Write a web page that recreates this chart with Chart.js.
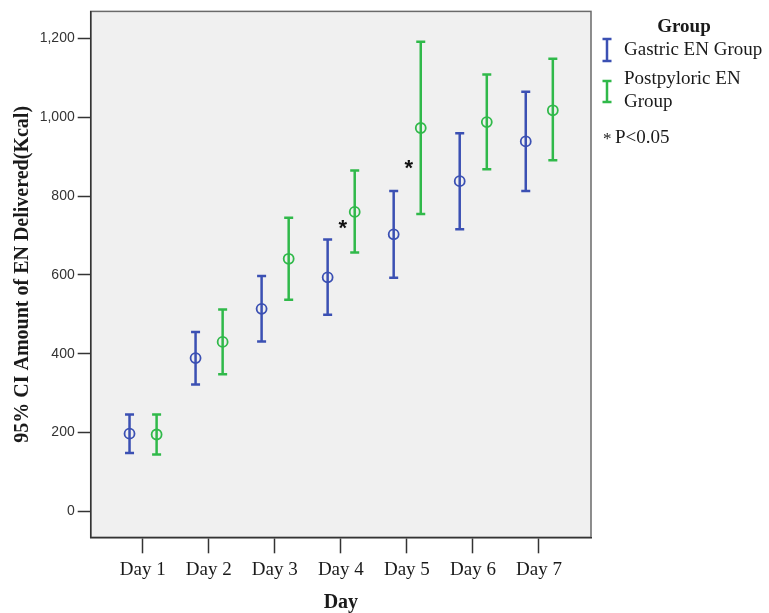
<!DOCTYPE html>
<html>
<head>
<meta charset="utf-8">
<script src="https://cdn.jsdelivr.net/npm/chart.js@4"></script>
<style>
  body { margin: 0; background: #fff; }
</style>
</head>
<body>
<canvas id="chart" width="769" height="613"></canvas>
<script>
const days = ["Day 1", "Day 2", "Day 3", "Day 4", "Day 5", "Day 6", "Day 7"];
const gastricMean = [197, 389, 514, 594, 703, 838, 939];
const gastricLow = [148, 322, 431, 499, 593, 716, 813];
const gastricHigh = [246, 455, 597, 690, 813, 960, 1065];
const postMean = [195, 430, 641, 760, 973, 988, 1018];
const postLow = [144, 348, 537, 657, 755, 868, 891];
const postHigh = [246, 512, 745, 865, 1192, 1109, 1149];
const starDay = [4, 5];
const starY = [715, 866];
const yTicks = [0, 200, 400, 600, 800, 1000, 1200];

const BLUE = "#3b50b3";
const GREEN = "#30b94a";
const SERIF = "'Liberation Serif', 'Times New Roman', serif";
const SANS = "'Liberation Sans', Arial, sans-serif";

const groups = [
  { mean: gastricMean, low: gastricLow, high: gastricHigh, color: BLUE, off: -0.2 },
  { mean: postMean, low: postLow, high: postHigh, color: GREEN, off: 0.21 },
];

function drawIBar(ctx, x, y1, y2, color) {
  ctx.save();
  ctx.strokeStyle = color;
  ctx.lineWidth = 2.5;
  ctx.beginPath();
  ctx.moveTo(x, y1);
  ctx.lineTo(x, y2);
  ctx.moveTo(x - 4.5, y1);
  ctx.lineTo(x + 4.5, y1);
  ctx.moveTo(x - 4.5, y2);
  ctx.lineTo(x + 4.5, y2);
  ctx.stroke();
  ctx.restore();
}

const plotFrame = {
  id: "plotFrame",
  beforeDraw(chart) {
    const { ctx, chartArea: a } = chart;
    ctx.save();
    ctx.fillStyle = "#f0f0f0";
    ctx.fillRect(a.left, a.top, a.right - a.left, a.bottom - a.top);
    ctx.strokeStyle = "#6a6a6a";
    ctx.lineWidth = 1.5;
    ctx.strokeRect(a.left, a.top, a.right - a.left, a.bottom - a.top);
    ctx.restore();
  },
};

const errorBars = {
  id: "errorBars",
  beforeDatasetsDraw(chart) {
    const { ctx } = chart;
    const xs = chart.scales.x, ys = chart.scales.y;
    groups.forEach((g) => {
      days.forEach((d, i) => {
        const x = xs.getPixelForValue(i + 1 + g.off);
        drawIBar(ctx, x, ys.getPixelForValue(g.high[i]), ys.getPixelForValue(g.low[i]), g.color);
      });
    });
    // significance stars
    ctx.save();
    ctx.fillStyle = "#111";
    ctx.font = "bold 22px " + SANS;
    ctx.textAlign = "center";
    ctx.textBaseline = "middle";
    starDay.forEach((d, i) => {
      ctx.fillText("*", xs.getPixelForValue(d + 0.03), ys.getPixelForValue(starY[i]) - 1);
    });
    ctx.restore();
  },
  afterDraw(chart) {
    const { ctx } = chart;
    ctx.save();
    ctx.fillStyle = "#1a1a1a";
    ctx.textBaseline = "middle";
    ctx.font = "bold 19px " + SERIF;
    ctx.textAlign = "center";
    ctx.fillText("Group", 684, 27);
    ctx.textAlign = "left";
    ctx.font = "19px " + SERIF;
    drawIBar(ctx, 607, 39, 61, BLUE);
    ctx.fillText("Gastric EN Group", 624, 50);
    drawIBar(ctx, 607, 81, 102, GREEN);
    ctx.fillText("Postpyloric EN", 624, 79);
    ctx.fillText("Group", 624, 102);
    ctx.font = "17px " + SERIF;
    ctx.fillText("*", 603, 140);
    ctx.font = "19px " + SERIF;
    ctx.fillText("P<0.05", 615, 138);
    ctx.restore();
  },
};

new Chart(document.getElementById("chart"), {
  type: "scatter",
  data: {
    datasets: groups.map((g, k) => ({
      label: k === 0 ? "Gastric EN Group" : "Postpyloric EN Group",
      data: g.mean.map((v, i) => ({ x: i + 1 + g.off, y: v })),
      pointStyle: "circle",
      pointRadius: 5,
      pointHoverRadius: 5,
      pointBorderWidth: 1.8,
      borderColor: g.color,
      backgroundColor: "rgba(0,0,0,0)",
    })),
  },
  options: {
    responsive: false,
    animation: false,
    layout: { padding: { top: 4.7, right: 178, left: 0, bottom: 0 } },
    plugins: {
      legend: { display: false },
      tooltip: { enabled: false },
    },
    scales: {
      x: {
        type: "linear",
        min: 0.212,
        max: 7.788,
        afterFit(scale) { scale.height = 75.7; },
        afterBuildTicks(scale) { scale.ticks = days.map((d, i) => ({ value: i + 1 })); },
        ticks: {
          callback: (v) => days[v - 1],
          color: "#1a1a1a",
          font: { family: SERIF, size: 19 },
          padding: 5,
          maxRotation: 0,
        },
        grid: { drawOnChartArea: false, tickLength: 16, tickColor: "#333", tickWidth: 1.5 },
        border: { display: true, color: "#333", width: 1.5 },
        title: {
          display: true,
          text: "Day",
          color: "#1a1a1a",
          font: { family: SERIF, size: 20, weight: "bold", lineHeight: 1 },
          padding: { top: 0, bottom: 0 },
        },
      },
      y: {
        type: "linear",
        min: -66,
        max: 1269,
        afterFit(scale) { scale.width = 90.7; },
        afterBuildTicks(scale) { scale.ticks = yTicks.map((v) => ({ value: v })); },
        ticks: {
          callback: (v) => v.toLocaleString("en-US"),
          color: "#333",
          font: { family: SANS, size: 14 },
          padding: 3,
        },
        grid: { drawOnChartArea: false, tickLength: 13, tickColor: "#333", tickWidth: 1.5 },
        border: { display: true, color: "#333", width: 1.5 },
        title: {
          display: true,
          text: "95% CI Amount of EN Delivered(Kcal)",
          color: "#1a1a1a",
          font: { family: SERIF, size: 20, weight: "bold" },
          padding: { top: 11, bottom: 0 },
        },
      },
    },
  },
  plugins: [plotFrame, errorBars],
});
</script>
</body>
</html>
